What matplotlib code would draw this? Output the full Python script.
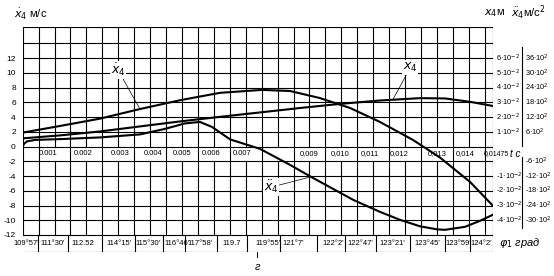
import numpy as np
import matplotlib.pyplot as plt
from matplotlib.transforms import blended_transform_factory

plt.rcParams['font.family'] = ['Liberation Sans', 'DejaVu Sans']
plt.rcParams['mathtext.fontset'] = 'dejavusans'

# velocity x4' (m/s), time in ms
t_v = [0, 1.17, 2.43, 3.68, 4.94, 6.19, 7.51, 8.39, 9.32, 10.27, 11.21, 12.25, 13.1, 14.04, 14.75]
v4 = [1.9, 2.8, 3.8, 5.1, 6.3, 7.3, 7.7, 7.55, 6.6, 5.25, 3.35, 0.9, -1.5, -4.8, -8.0]

# displacement x4 (m)
t_x = [0, 1.17, 2.43, 3.68, 4.94, 6.19, 7.45, 8.7, 9.96, 11.21, 12.47, 13.25, 14.04, 14.75]
x4 = [0.0056, 0.0076, 0.0103, 0.0137, 0.0171, 0.0202, 0.0232, 0.0262, 0.0290, 0.0313, 0.0329, 0.0327, 0.0304, 0.0276]

# acceleration x4'' (m/s^2)
t_a = [0, 0.04, 0.13, 0.39, 1.17, 2.43, 3.68, 4.46, 5.09, 5.56, 5.94, 6.51, 7.45, 8.39, 9.05,
       10.37, 11.21, 11.84, 12.47, 13.0, 13.25, 13.88, 14.35, 14.75]
a4 = [0, 110, 212, 273, 305, 374, 497, 720, 944, 1005, 802, 293, -94, -745, -1233,
      -2169, -2657, -2983, -3247, -3370, -3390, -3268, -3024, -2780]

x_scale = 200   # 1*10^-2 m  <->  2 m/s
a_scale = 1 / 300.0

v_ticks = list(range(-12, 13, 2))

t_labels = ['0.001', '0.002', '0.003', '0.004', '0.005', '0.006', '0.007',
            '0,009', '0,010', '0,011', '0,012', '0,013', '0,014']
t_label_ms = [0.8, 1.9, 3.05, 4.1, 5.0, 5.9, 6.9, 9.0, 9.95, 10.9, 11.8, 13.0, 13.9]

phi_labels = ["109°57'", "111°30'", "112.52", "114°15'", "115°30'", "116°46'", "117°58'",
              "119.7", "119°55'", "121°7'", "122°2'", "122°47'", "123°21'", "123°45'",
              "123°59'", "124°2'"]
phi_ms = [0.10, 0.95, 1.89, 3.02, 3.93, 4.84, 5.56, 6.57, 7.70, 8.48, 9.74, 10.59,
          11.59, 12.69, 13.66, 14.38]
phi_sep_ms = [0.49, 1.43, 2.48, 3.52, 4.40, 5.09, 6.09, 7.03, 8.08, 9.23, 10.11,
              11.09, 12.16, 13.25, 14.04]

x4_labels = ['1·10$^{-2}$', '2·10$^{-2}$', '3·10$^{-2}$', '4·10$^{-2}$',
             '5·10$^{-2}$', '6·10$^{-2}$',
             '-1·10$^{-2}$', '-2·10$^{-2}$', '-3·10$^{-2}$', '-4·10$^{-2}$']
x4_rows = [2, 4, 6, 8, 10, 12, -4, -6, -8, -10]
a4_labels = ['6·10$^{2}$', '12·10$^{2}$', '18·10$^{2}$', '24·10$^{2}$',
             '30·10$^{2}$', '36·10$^{2}$',
             '-6·10$^{2}$', '-12·10$^{2}$', '-18·10$^{2}$', '-24·10$^{2}$',
             '-30·10$^{2}$']
a4_rows = [2, 4, 6, 8, 10, 12, -2, -4, -6, -8, -10]

T_END = 0.01475
Y_TOP, Y_BOT = 16.28, -14.27

fig = plt.figure(figsize=(5.54, 2.76), dpi=100)
ax = fig.add_axes([22.7 / 554, 1 - 251.7 / 276, 470 / 554, 225 / 276])
ax.set_xlim(0, T_END)
ax.set_ylim(Y_BOT, Y_TOP)
for s in ax.spines.values():
    s.set_visible(False)
ax.set_xticks([])
ax.set_yticks(v_ticks)
ax.set_yticklabels([str(v) for v in v_ticks], fontsize=6)
ax.tick_params(axis='y', length=0, pad=5)

lw_g = 0.8
# horizontal grid
for y in range(-12, 15, 2):
    ax.plot([0, T_END], [y, y], color='k', lw=lw_g)
ax.plot([0, T_END], [Y_TOP, Y_TOP], color='k', lw=lw_g)
ax.plot([0.00007, T_END], [Y_BOT, Y_BOT], color='k', lw=lw_g)
# vertical grid (time row keeps only half-ms separators)
for k in range(1, 30):
    t = k * 0.0005
    if k % 2 == 1:
        ax.plot([t, t], [-12, Y_TOP], color='k', lw=lw_g)
    else:
        ax.plot([t, t], [-12, -2], color='k', lw=lw_g)
        ax.plot([t, t], [0, Y_TOP], color='k', lw=lw_g)
ax.plot([0, 0], [-12, Y_TOP], color='k', lw=lw_g)
ax.plot([T_END, T_END], [Y_BOT, Y_TOP], color='k', lw=lw_g)
for s in phi_sep_ms:
    ax.plot([s / 1000, s / 1000], [Y_BOT, -12], color='k', lw=lw_g)

# curves
ax.plot(np.array(t_v) / 1000, v4, color='k', lw=1.5)
ax.plot(np.array(t_x) / 1000, np.array(x4) * x_scale, color='k', lw=1.5)
ax.plot(np.array(t_a) / 1000, np.array(a4) * a_scale, color='k', lw=1.5)

# time labels row
for lab, tm in zip(t_labels, t_label_ms):
    ax.text(tm / 1000, -1, lab, ha='center', va='center', fontsize=5.5)
ax.text(0.01448, -1, '0,01475', ha='left', va='center', fontsize=5, clip_on=False)
ax.text(0.01528, -1, 't c', ha='left', va='center', fontsize=7,
        style='italic', clip_on=False)

# angle labels row
for lab, tm in zip(phi_labels, phi_ms):
    ax.text(tm / 1000, -13.15, lab, ha='center', va='center', fontsize=5.5, clip_on=False)
ax.text(0.01475 + 0.0002, -13.15, r'$\varphi_1$ град', ha='left', va='center',
        fontsize=8, style='italic', clip_on=False)
ax.plot([0.00736, 0.00736], [Y_BOT, -15.0], color='k', lw=0.7, clip_on=False)
ax.text(0.00736, -16.4, 'г', ha='center', va='center', fontsize=8, style='italic',
        clip_on=False)

# right scales
tr = blended_transform_factory(ax.transAxes, ax.transData)
for lab, r in zip(x4_labels, x4_rows):
    ax.text(1.007, r, lab, transform=tr, ha='left', va='center', fontsize=5.3)
for lab, r in zip(a4_labels, a4_rows):
    ax.text(1.069, r, lab, transform=tr, ha='left', va='center', fontsize=5.3)
ax.plot([1.0617, 1.0617], [13.5, 0.1], transform=tr, color='k', lw=0.8, clip_on=False)
ax.plot([1.0617, 1.0617], [-1.4, -11.0], transform=tr, color='k', lw=0.8, clip_on=False)

# curve labels
box = dict(facecolor='white', edgecolor='none', pad=0.5)
ax.annotate(r'$\dot{x}_4$', xy=(0.00368, 5.1), xytext=(0.00299, 10.4), fontsize=9,
            ha='center', va='center', bbox=box,
            arrowprops=dict(arrowstyle='-', lw=0.5, color='k', shrinkA=0, shrinkB=0))
ax.annotate(r'$x_4$', xy=(0.01162, 6.4), xytext=(0.01216, 10.7), fontsize=9,
            ha='center', va='center', bbox=box,
            arrowprops=dict(arrowstyle='-', lw=0.5, color='k', shrinkA=0, shrinkB=0))
ax.annotate(r'$\ddot{x}_4$', xy=(0.00905, -4.1), xytext=(0.0078, -5.5), fontsize=9,
            ha='center', va='center', bbox=box,
            arrowprops=dict(arrowstyle='-', lw=0.5, color='k', shrinkA=0, shrinkB=0))

# axis titles
fig.text(14 / 554, 1 - 14 / 276, r'$\dot{x}_4$ м/с', fontsize=8, va='center')
fig.text(484 / 554, 1 - 13 / 276, r'$x_4$м', fontsize=8, va='center')
fig.text(511 / 554, 1 - 13 / 276, r'$\ddot{x}_4$м/с$^2$', fontsize=8, va='center')

fig.savefig('out.png', dpi=100)
